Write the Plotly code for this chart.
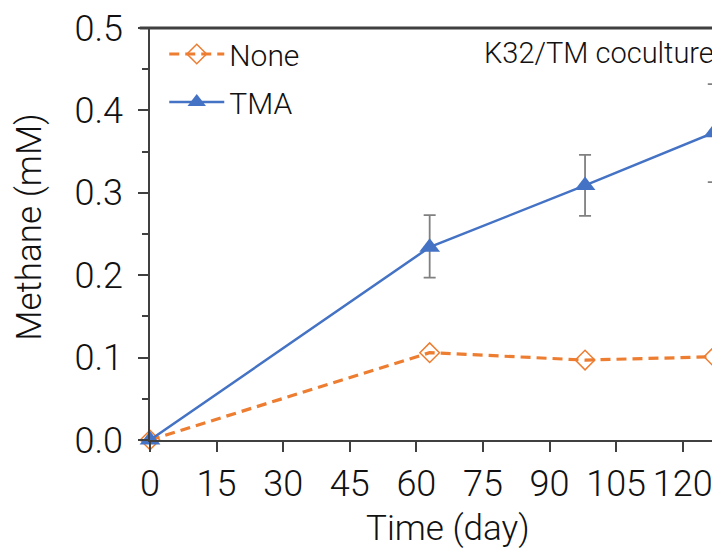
import plotly.graph_objects as go

days = [0, 63, 98, 127]
none_vals = [0.0, 0.106, 0.097, 0.101]
tma_vals = [0.0, 0.234, 0.309, 0.373]
tma_err_plus = [0.0, 0.039, 0.037, 0.059]
tma_err_minus = [0.0, 0.037, 0.037, 0.060]
x_ticks = [0, 15, 30, 45, 60, 75, 90, 105, 120]
y_ticks = [0.0, 0.1, 0.2, 0.3, 0.4, 0.5]
y_tick_labels = ["0.0", "0.1", "0.2", "0.3", "0.4", "0.5"]

ORANGE = "#ED7D31"
BLUE = "#4472C4"
AXIS = "#404040"
TXT = "#111111"
FONT = "Roboto"

fig = go.Figure()
fig.add_trace(go.Scatter(
    x=days, y=none_vals, name="None", mode="lines+markers", legendgroup="a",
    line=dict(color=ORANGE, width=3.2, dash="10px,6px"),
    marker=dict(symbol="diamond-open", size=15, color=ORANGE, line=dict(width=1.5)),
    cliponaxis=False,
))
fig.add_trace(go.Scatter(
    x=days, y=tma_vals, name="TMA", mode="lines+markers", legendgroup="b",
    line=dict(color=BLUE, width=2.5),
    marker=dict(symbol="triangle-up", size=18, color=BLUE),
    error_y=dict(type="data", symmetric=False, array=tma_err_plus, arrayminus=tma_err_minus,
                 color="#808080", thickness=1.8, width=6),
    cliponaxis=False,
))

# top frame line (extends left like the 0.5 tick)
fig.add_shape(type="line", xref="paper", yref="paper", x0=-0.018, x1=1.01, y0=1, y1=1,
              line=dict(color=AXIS, width=3), layer="above")

fig.add_annotation(text="K32/TM coculture", xref="paper", yref="paper", x=0.993, y=0.94,
                   xanchor="right", yanchor="middle", showarrow=False,
                   font=dict(size=29, color=TXT, family=FONT, weight=300))
fig.add_annotation(text="Time (day)", xref="paper", yref="paper", x=0.523, y=-0.216,
                   xanchor="center", yanchor="middle", showarrow=False,
                   font=dict(size=35, color=TXT, family=FONT, weight=300))
fig.add_annotation(text="Methane (mM)", xref="paper", yref="paper", x=-0.2105, y=0.515,
                   xanchor="center", yanchor="middle", showarrow=False, textangle=-90,
                   font=dict(size=35, color=TXT, family=FONT, weight=300))

# page body has an 8px margin, so the figure is sized to fill the visible window
fig.update_layout(
    width=712, height=542,
    margin=dict(l=142, r=0, t=20, b=110, autoexpand=False),
    plot_bgcolor="white", paper_bgcolor="white",
    font=dict(family=FONT, size=30, color=TXT, weight=300),
    showlegend=True,
    legend=dict(x=0.025, y=1.0, xanchor="left", yanchor="top",
                font=dict(size=30, family=FONT, weight=300, color=TXT),
                bgcolor="rgba(0,0,0,0)", itemwidth=55, tracegroupgap=6),
    xaxis=dict(range=[0, 128.4], tickvals=x_ticks, ticks="outside", ticklen=10,
               tickwidth=1.5, tickcolor=AXIS, showline=True, linecolor=AXIS, linewidth=1.5,
               showgrid=False, zeroline=False, tickfont=dict(size=36), ticklabelstandoff=1,
               automargin=False, ticklabeloverflow="allow"),
    yaxis=dict(range=[0, 0.5], tickvals=y_ticks, ticktext=y_tick_labels, ticks="outside",
               ticklen=10, tickwidth=1.5, tickcolor=AXIS, showline=True, linecolor=AXIS,
               linewidth=1.5, showgrid=False, zeroline=False, tickfont=dict(size=36),
               ticklabelstandoff=8, automargin=False, ticklabeloverflow="allow",
               minor=dict(dtick=0.05, ticks="outside", ticklen=6, tickwidth=1.5, tickcolor=AXIS, showgrid=False)),
)

fig.write_html("out.html")
